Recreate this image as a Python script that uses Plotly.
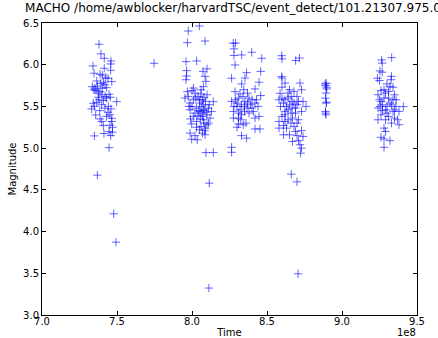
import numpy as np
import plotly.graph_objects as go

# Observation seasons: (time [1e8 s], magnitude)
season1 = [(7.380,6.245),(7.393,6.130),(7.415,6.077),(7.460,6.045),(7.458,6.009),(7.340,5.985),(7.415,5.957),(7.458,5.933),(7.347,5.898),(7.387,5.886),(7.402,5.874),(7.425,5.850),(7.440,5.835),(7.365,5.805),(7.465,5.797),(7.410,5.790),(7.392,5.775),(7.335,5.737),(7.353,5.718),(7.402,5.718),(7.431,5.725),(7.370,5.745),(7.420,5.760),(7.387,5.677),(7.376,5.660),(7.447,5.646),(7.420,5.620),(7.345,5.700),(7.360,5.690),(7.400,5.640),(7.430,5.600),(7.455,5.610),(7.498,5.557),(7.342,5.538),(7.365,5.550),(7.398,5.520),(7.442,5.500),(7.331,5.470),(7.380,5.580),(7.410,5.570),(7.350,5.500),(7.420,5.480),(7.460,5.470),(7.385,5.450),(7.358,5.398),(7.453,5.400),(7.465,5.358),(7.387,5.350),(7.398,5.320),(7.465,5.320),(7.430,5.380),(7.409,5.270),(7.453,5.275),(7.447,5.198),(7.469,5.190),(7.349,5.147),(7.413,5.175),(7.458,5.150),(7.447,5.006),(7.470,5.250),(7.440,5.430),(7.375,5.610)]
season2 = [(7.975,6.404),(8.049,6.464),(7.969,6.264),(8.087,6.284),(7.960,6.037),(8.031,6.045),(7.964,5.929),(8.073,5.920),(8.100,5.950),(7.964,5.865),(8.087,5.860),(8.093,5.800),(7.960,5.820),(8.076,5.737),(7.969,5.677),(8.000,5.690),(8.020,5.660),(8.053,5.578),(7.953,5.600),(7.987,5.540),(8.142,5.557),(8.076,5.520),(8.031,5.480),(8.109,5.480),(7.987,5.460),(8.053,5.440),(8.009,5.378),(8.100,5.400),(8.076,5.340),(8.120,5.360),(8.031,5.320),(7.998,5.290),(8.100,5.280),(7.987,5.180),(8.087,5.160),(7.998,5.107),(8.035,5.100),(8.093,4.947),(8.142,4.947),(8.060,5.650),(8.080,5.610),(8.040,5.620),(8.070,5.580),(8.090,5.560),(8.050,5.540),(8.010,5.580),(8.025,5.600),(8.065,5.500),(8.085,5.460),(8.045,5.450),(8.060,5.420),(8.095,5.430),(8.020,5.420),(8.040,5.390),(8.070,5.380),(8.080,5.300),(8.060,5.260),(8.050,5.220),(8.090,5.240),(8.110,5.300),(8.030,5.250),(8.000,5.500),(7.975,5.620),(8.115,5.520),(8.130,5.440),(8.010,5.720),(8.060,5.700),(8.100,5.640),(7.990,5.350),(8.070,5.180),(8.085,5.210),(8.020,5.150),(7.980,5.500),(8.055,5.350),(8.075,5.450)]
season3 = [(8.275,6.257),(8.290,6.260),(8.280,6.190),(8.331,6.117),(8.398,6.149),(8.280,6.110),(8.465,6.077),(8.287,5.997),(8.364,5.905),(8.458,5.920),(8.264,5.838),(8.353,5.840),(8.447,5.790),(8.331,5.770),(8.287,5.677),(8.420,5.710),(8.458,5.630),(8.309,5.600),(8.264,5.560),(8.353,5.560),(8.420,5.540),(8.300,5.500),(8.367,5.480),(8.440,5.500),(8.276,5.440),(8.409,5.440),(8.330,5.400),(8.447,5.380),(8.310,5.360),(8.420,5.360),(8.276,5.360),(8.342,5.280),(8.310,5.290),(8.420,5.230),(8.453,5.230),(8.330,5.150),(8.364,5.120),(8.264,5.010),(8.264,4.950),(8.320,5.650),(8.340,5.620),(8.300,5.540),(8.330,5.520),(8.350,5.500),(8.320,5.460),(8.290,5.580),(8.380,5.600),(8.400,5.580),(8.390,5.520),(8.370,5.540),(8.310,5.420),(8.350,5.440),(8.380,5.420),(8.280,5.500),(8.400,5.480),(8.430,5.580),(8.345,5.700),(8.370,5.660),(8.325,5.340),(8.360,5.300),(8.300,5.250)]
season4 = [(8.598,6.108),(8.600,6.070),(8.691,6.050),(8.716,6.080),(8.598,5.857),(8.600,5.840),(8.620,5.780),(8.720,5.780),(8.730,5.700),(8.600,5.730),(8.587,5.658),(8.640,5.660),(8.700,5.620),(8.580,5.580),(8.668,5.560),(8.740,5.560),(8.610,5.540),(8.700,5.520),(8.590,5.500),(8.668,5.480),(8.760,5.500),(8.620,5.440),(8.690,5.420),(8.730,5.440),(8.600,5.380),(8.670,5.360),(8.710,5.340),(8.580,5.320),(8.700,5.300),(8.610,5.270),(8.630,5.240),(8.580,5.240),(8.690,5.200),(8.730,5.210),(8.650,5.160),(8.700,5.150),(8.610,5.160),(8.740,5.140),(8.710,5.090),(8.720,5.040),(8.670,5.080),(8.724,4.940),(8.730,5.000),(8.640,5.600),(8.660,5.620),(8.620,5.580),(8.650,5.520),(8.630,5.500),(8.680,5.540),(8.640,5.460),(8.660,5.420),(8.620,5.400),(8.690,5.480),(8.710,5.560),(8.650,5.700),(8.680,5.680),(8.600,5.600),(8.660,5.300),(8.640,5.340),(8.680,5.260),(8.620,5.320)]
season5 = [(8.895,5.780),(8.890,5.750),(8.898,5.710),(8.893,5.660),(8.890,5.600),(8.895,5.540),(8.890,5.440),(8.893,5.400),(8.888,5.770),(8.898,5.730),(8.896,5.550),(8.891,5.420)]
season6 = [(9.331,6.085),(9.264,6.057),(9.268,6.020),(9.253,5.925),(9.268,5.910),(9.236,5.838),(9.250,5.810),(9.330,5.860),(9.327,5.820),(9.300,5.770),(9.320,5.740),(9.340,5.730),(9.260,5.690),(9.290,5.660),(9.350,5.640),(9.240,5.640),(9.280,5.600),(9.360,5.580),(9.409,5.498),(9.260,5.560),(9.320,5.540),(9.360,5.500),(9.240,5.480),(9.290,5.460),(9.340,5.440),(9.380,5.440),(9.260,5.400),(9.310,5.380),(9.350,5.360),(9.240,5.340),(9.290,5.340),(9.370,5.340),(9.330,5.300),(9.380,5.280),(9.280,5.240),(9.290,5.200),(9.260,5.130),(9.280,5.110),(9.320,5.090),(9.280,5.010),(9.270,5.520),(9.300,5.500),(9.250,5.580),(9.310,5.600),(9.330,5.520),(9.270,5.450),(9.300,5.420),(9.350,5.460),(9.255,5.500),(9.280,5.700),(9.310,5.680),(9.340,5.580)]
outliers = [(7.369,4.676),(7.478,4.213),(7.493,3.874),(7.747,6.017),(8.115,4.580),(8.113,3.323),(8.662,4.688),(8.700,4.596),(8.707,3.494)]

x_ticks = [7.0, 7.5, 8.0, 8.5, 9.0, 9.5]
x_tick_labels = ["7.0", "7.5", "8.0", "8.5", "9.0", "9.5"]
y_ticks = [3.0, 3.5, 4.0, 4.5, 5.0, 5.5, 6.0, 6.5]
y_tick_labels = ["3.0", "3.5", "4.0", "4.5", "5.0", "5.5", "6.0", "6.5"]
title_text = "MACHO /home/awblocker/harvardTSC/event_detect/101.21307.975.0"

pts = season1 + season2 + season3 + season4 + season5 + season6 + outliers
time = np.array([p[0] for p in pts]) * 1e8
mag = np.array([p[1] for p in pts])

FONT = "DejaVu Sans"
X_RANGE = [7.0e8, 9.5e8]
Y_RANGE = [3.0, 6.5]
L, R, T, B = 42, 21, 23, 23
W, H = 438, 338

fig = go.Figure()
fig.add_trace(go.Scatter(
    x=time, y=mag, mode="markers",
    marker=dict(symbol="cross-thin", size=6,
                line=dict(color="rgba(0,0,255,0.6)", width=1)),
    showlegend=False, hoverinfo="skip"))

# Title: long text, anchored above the top axis and allowed to run off the right edge
# (an invisible anchor marker lifts the text a few pixels above the axis line)
title_center_px = 233
fig.add_trace(go.Scatter(
    x=[X_RANGE[0] + (title_center_px - L) * (X_RANGE[1] - X_RANGE[0]) / (W - L - R)], y=[Y_RANGE[1]],
    mode="markers+text", text=[title_text], textposition="top center",
    marker=dict(size=11, color="rgba(0,0,0,0)"),
    textfont=dict(family=FONT, size=12, color="black"),
    cliponaxis=False, showlegend=False, hoverinfo="skip"))

axis_common = dict(showline=True, linecolor="black", linewidth=1, mirror="ticks",
                   ticks="inside", ticklen=4, tickcolor="black", showgrid=False,
                   zeroline=False, tickfont=dict(family=FONT, size=10, color="black"))
fig.update_layout(
    width=W, height=H,
    margin=dict(l=L, r=R, t=T, b=B),
    paper_bgcolor="white", plot_bgcolor="white",
    xaxis=dict(range=X_RANGE, tickvals=[v * 1e8 for v in x_ticks], ticktext=x_tick_labels,
               title=dict(text="Time", font=dict(family=FONT, size=10, color="black"), standoff=2),
               ticklabelstandoff=-3, automargin=False, **axis_common),
    yaxis=dict(range=Y_RANGE, tickvals=y_ticks, ticktext=y_tick_labels,
               title=dict(text="Magnitude", font=dict(family=FONT, size=10, color="black"), standoff=4),
               automargin=False, **axis_common),
)
fig.add_annotation(text="1e8", xref="paper", yref="paper", x=1, y=0, xanchor="right", yanchor="middle",
                   yshift=-17, showarrow=False, borderpad=0, font=dict(family=FONT, size=10, color="black"))
fig.write_html("out.html")
